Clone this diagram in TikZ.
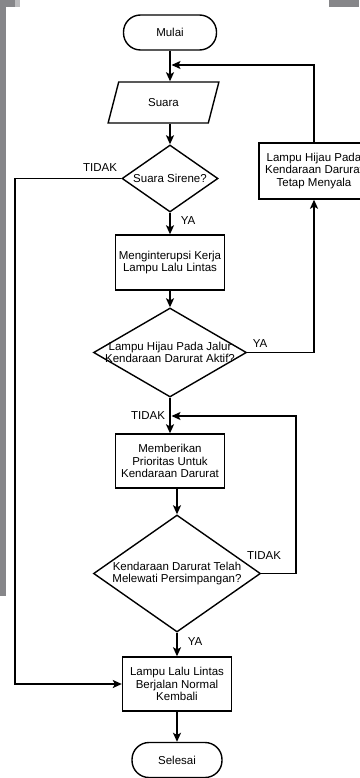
\documentclass[tikz,border=0pt]{standalone}
\usepackage{fontspec}
\setmainfont{Liberation Sans}
\usepackage{tikz}
\usetikzlibrary{shapes.geometric, arrows.meta, positioning}
\definecolor{grisbarra}{RGB}{134,134,137}
\tikzset{
  texto/.style={font=\fontsize{11.5}{12.5}\selectfont, align=center},
  terminal/.style={texto, draw, rounded corners=17pt, minimum width=93pt, minimum height=35pt, inner sep=0pt, line width=1.4pt},
  proceso/.style={texto, draw, minimum width=109pt, minimum height=55pt, inner sep=1pt, line width=1.4pt},
  datos/.style={texto, draw, trapezium, trapezium left angle=66, trapezium right angle=114, trapezium stretches=true, minimum width=111pt, minimum height=41pt, inner sep=0pt, line width=1.4pt},
  decision/.style={draw, diamond, inner sep=0pt, line width=1.4pt},
  flecha/.style={-{Stealth[length=9pt,width=8pt,inset=2pt]}, line width=1.4pt},
  etiqueta/.style={texto, inner sep=0pt}
}

\begin{document}
\begin{tikzpicture}[x=1pt, y=-1pt]
  % Marco de la imagen
  \useasboundingbox (0,0) rectangle (359,778);
  \fill[grisbarra] (0,0) rectangle (6,596);
  \fill[grisbarra] (0,0) rectangle (15,7);
  \fill[grisbarra!55] (15,0) rectangle (20,7);
  \fill[grisbarra] (329,0) rectangle (359,7);

  % Nodos del diagrama
  \node[terminal] (mulai) at (170,32.5) {Mulai};
  \node[datos] (suara) at (163.5,102.5) {Suara};
  \node[decision, minimum width=96pt, minimum height=67pt, label={[texto]center:Suara Sirene?}] (sirene) at (170,178.5) {};
  \node[proceso] (interupsi) at (170,262.5) {Menginterupsi Kerja\\Lampu Lalu Lintas};
  \node[decision, minimum width=153pt, minimum height=89pt, label={[texto]center:Lampu Hijau Pada Jalur\\Kendaraan Darurat Aktif?}] (aktif) at (170,352.5) {};
  \node[proceso, minimum width=110pt, minimum height=56pt] (menyala) at (314,171) {Lampu Hijau Pada\\Kendaraan Darurat\\Tetap Menyala};
  \node[proceso, minimum height=54pt] (prioritas) at (170,461) {Memberikan\\Prioritas Untuk\\Kendaraan Darurat};
  \node[decision, minimum width=167pt, minimum height=117pt, label={[texto]center:Kendaraan Darurat Telah\\Melewati Persimpangan?}] (lewat) at (177,573.5) {};
  \node[proceso, minimum height=54pt] (normal) at (177,684) {Lampu Lalu Lintas\\Berjalan Normal\\Kembali};
  \node[terminal, minimum width=90pt] (selesai) at (177,760) {Selesai};

  % Etiquetas
  \node[etiqueta] (tidak1) at (100,168) {TIDAK};
  \node[etiqueta] (ya1) at (188,221) {YA};
  \node[etiqueta] (ya2) at (260,344) {YA};
  \node[etiqueta] (tidak2) at (148,416) {TIDAK};
  \node[etiqueta] (tidak3) at (264,556) {TIDAK};
  \node[etiqueta] (ya3) at (195,642) {YA};

  % Puntos de las lineas de retorno
  \coordinate (kiri) at (15,0);
  \coordinate (kanan) at (296,0);
  \coordinate (gabung1) at (171.5,65);
  \coordinate (gabung2) at (171.5,416);

  % Flechas
  \draw[flecha] (mulai.south) -- (mulai |- suara.north);
  \draw[flecha] (suara.south -| sirene) -- (sirene.north);
  \draw[flecha] (sirene.south) -- (interupsi.north);
  \draw[flecha] (interupsi.south) -- (aktif.north);
  \draw[flecha] (aktif.south) -- (prioritas.north);
  \draw[flecha] (prioritas.south -| lewat) -- (lewat.north);
  \draw[flecha] (lewat.south) -- (normal.north);
  \draw[flecha] (normal.south) -- (selesai.north);
  \draw[flecha] (sirene.west) -| (kiri |- normal) -- (normal.west);
  \draw[flecha] (aktif.east) -| (menyala.south);
  \draw[flecha] (menyala.north) |- (gabung1);
  \draw[flecha] (lewat.east) -| (kanan |- gabung2) -- (gabung2);
\end{tikzpicture}
\end{document}
